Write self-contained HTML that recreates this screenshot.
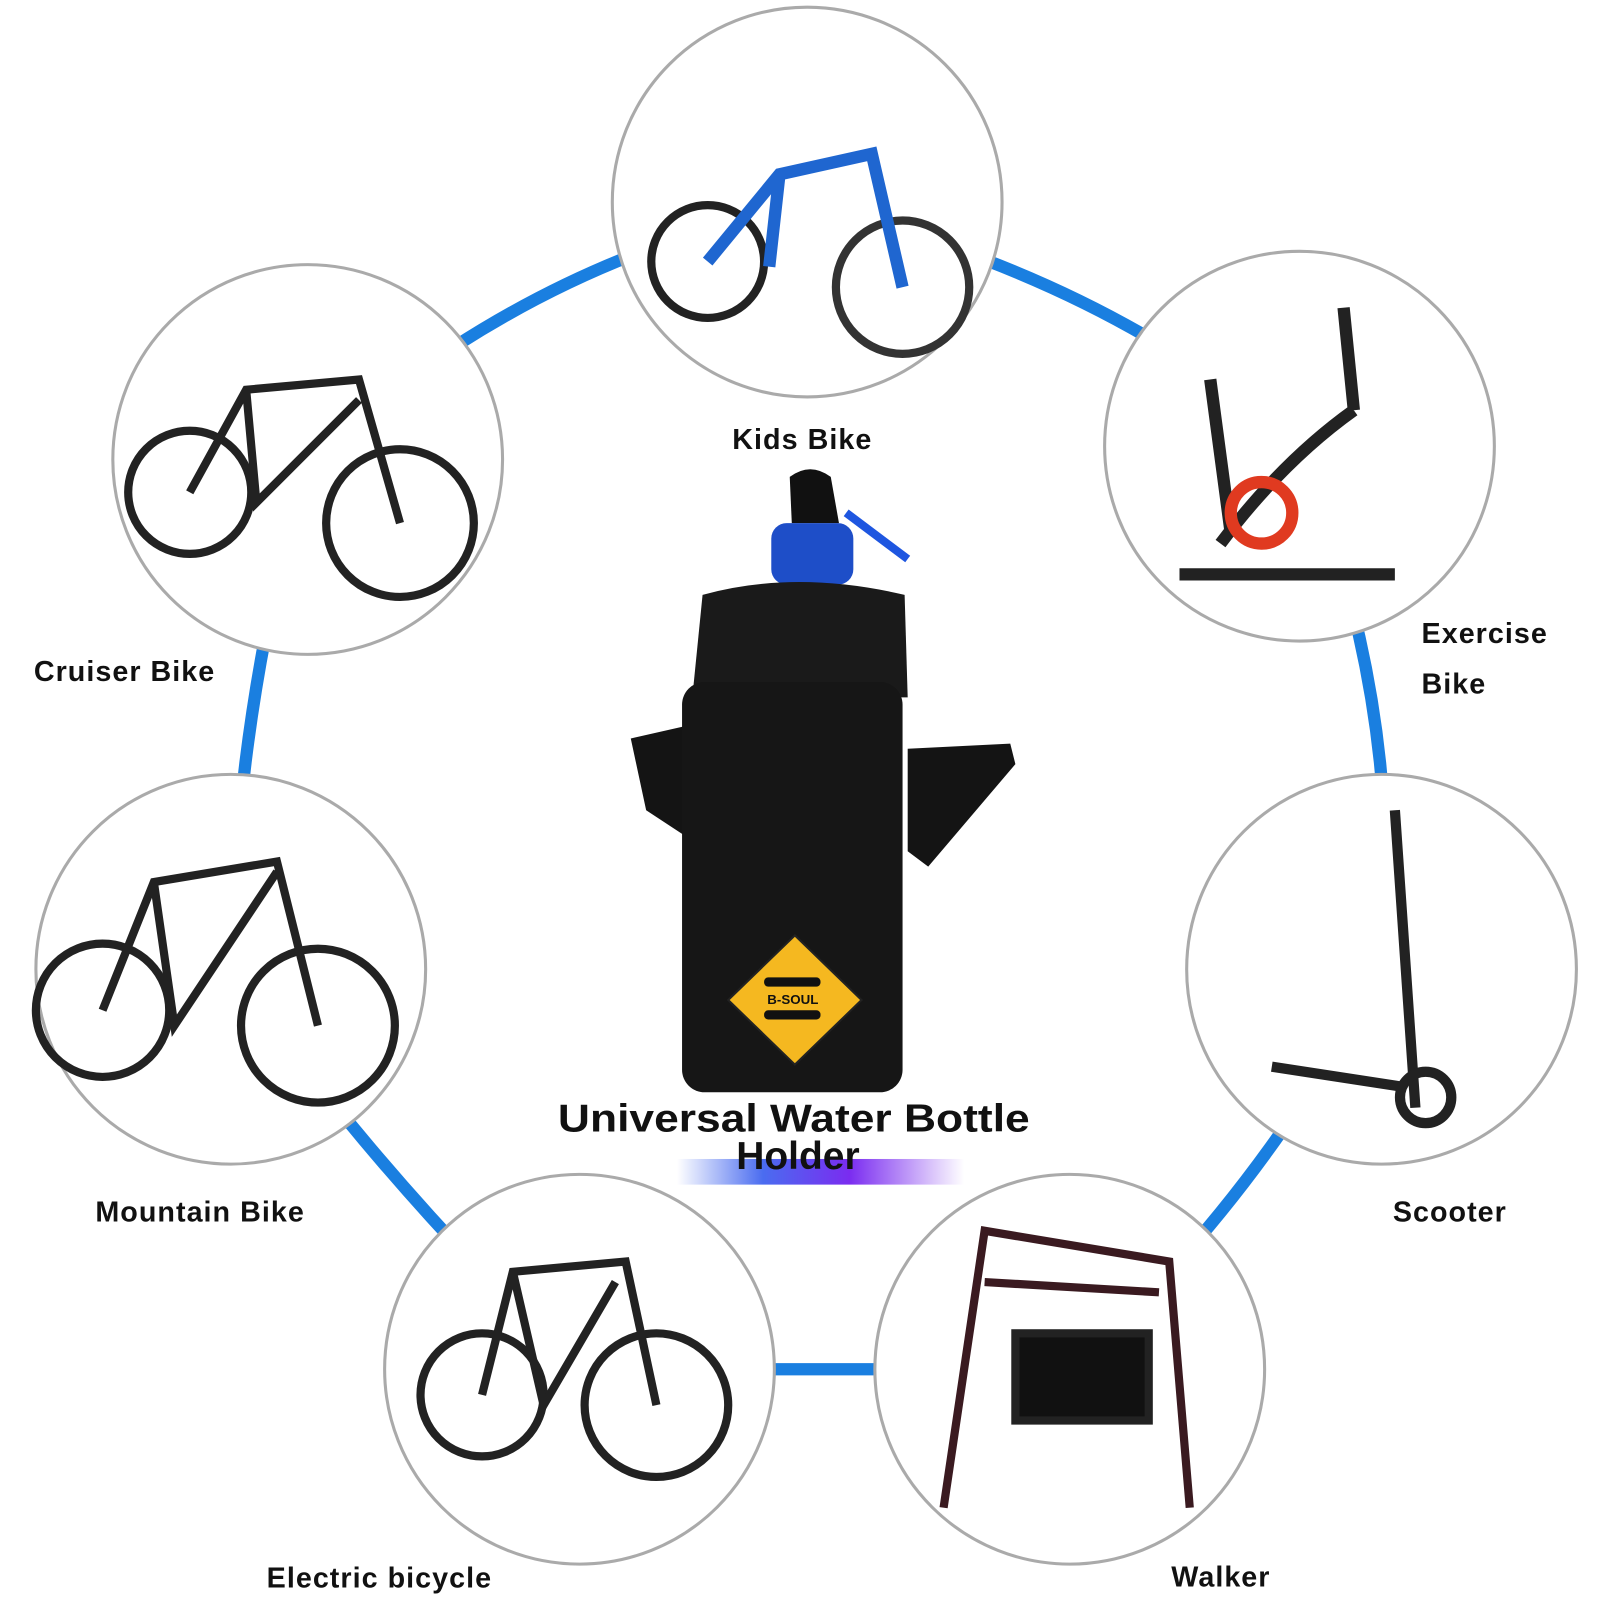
<!DOCTYPE html>
<html><head><style>
html,body{margin:0;padding:0;background:#fff;}
svg{display:block}
text{font-family:"Liberation Sans",sans-serif;font-weight:bold;fill:#111}
</style></head><body>
<svg width="1600" height="1600" viewBox="0 0 1560 1560" xmlns="http://www.w3.org/2000/svg">
<defs>
<linearGradient id="g" x1="0" x2="1"><stop offset="0" stop-color="#fff"/><stop offset="0.3" stop-color="#4a6cf0"/><stop offset="0.6" stop-color="#7a2cf0"/><stop offset="1" stop-color="#fff"/></linearGradient>
</defs>
<path d="M300,448 Q520,250 787,200 Q1080,270 1267,435 Q1370,690 1347,945 Q1220,1180 1043,1335 L565,1335 Q380,1160 225,945 Q230,690 300,448 Z" fill="none" stroke="#1a7fe0" stroke-width="12"/>
<g fill="#fff" stroke="#aaa" stroke-width="3">
<circle cx="787" cy="197" r="190"/>
<circle cx="300" cy="448" r="190"/>
<circle cx="1267" cy="435" r="190"/>
<circle cx="225" cy="945" r="190"/>
<circle cx="1347" cy="945" r="190"/>
<circle cx="565" cy="1335" r="190"/>
<circle cx="1043" cy="1335" r="190"/>
</g>
<g fill="none" stroke="#222" stroke-width="8">
<circle cx="690" cy="255" r="55"/><circle cx="880" cy="280" r="65" stroke="#333"/>
<path d="M690,255 L760,170 L850,150 L880,280 M760,170 L750,260" stroke="#1f66d0" stroke-width="12"/>
<circle cx="185" cy="480" r="60"/><circle cx="390" cy="510" r="72"/>
<path d="M185,480 L240,380 L350,370 L390,510 M240,380 L250,490 L350,390"/>
<circle cx="100" cy="985" r="65"/><circle cx="310" cy="1000" r="75"/>
<path d="M100,985 L150,860 L270,840 L310,1000 M150,860 L170,1000 L270,850"/>
<circle cx="470" cy="1360" r="60"/><circle cx="640" cy="1370" r="70"/>
<path d="M470,1360 L500,1240 L610,1230 L640,1370 M500,1240 L530,1370 L600,1250"/>
<path d="M1360,790 L1380,1080 M1240,1040 L1370,1060" stroke-width="10"/>
<circle cx="1390" cy="1070" r="25" stroke-width="10"/>
<path d="M1190,530 Q1250,450 1320,400 M1150,560 L1360,560 M1180,370 L1200,520 M1310,300 L1320,400" stroke-width="12"/>
<circle cx="1230" cy="500" r="30" stroke="#e03a20" stroke-width="12"/>
<path d="M920,1470 L960,1200 L1140,1230 L1160,1470 M960,1250 L1130,1260" stroke="#3a1a20"/>
<rect x="990" y="1300" width="130" height="85" fill="#111"/>
</g>
<!-- bag -->
<path d="M770,465 Q790,450 810,465 L818,510 L772,510 Z" fill="#111"/>
<rect x="752" y="510" width="80" height="60" rx="15" fill="#1e4ec8"/>
<path d="M825,500 L885,545" stroke="#1e56e0" stroke-width="8"/>
<path d="M615,720 L668,708 L668,815 L630,790 Z M885,730 L985,725 L990,745 L905,845 L885,830 Z" fill="#141414"/>
<path d="M685,580 Q775,555 882,580 L885,680 L675,680 Z" fill="#1a1a1a"/>
<rect x="665" y="665" width="215" height="400" rx="22" fill="#161616"/>
<path d="M775,912 L840,975 L775,1038 L710,975 Z" fill="#f5b820" stroke="#222" stroke-width="2"/>
<rect x="745" y="953" width="55" height="9" rx="4" fill="#111"/>
<rect x="745" y="985" width="55" height="9" rx="4" fill="#111"/>
<text x="773" y="979" font-size="13" text-anchor="middle">B-SOUL</text>
<rect x="660" y="1130" width="280" height="25" fill="url(#g)"/>
<text x="774" y="1103" font-size="38" text-anchor="middle" textLength="460" lengthAdjust="spacingAndGlyphs">Universal Water Bottle</text>
<text x="778" y="1140" font-size="38" text-anchor="middle">Holder</text>
<g font-size="28" letter-spacing="1">
<text x="714" y="438">Kids Bike</text>
<text x="33" y="664">Cruiser Bike</text>
<text x="1386" y="627">Exercise</text>
<text x="1386" y="676">Bike</text>
<text x="93" y="1191">Mountain Bike</text>
<text x="1358" y="1191">Scooter</text>
<text x="260" y="1548">Electric bicycle</text>
<text x="1142" y="1547">Walker</text>
</g>
</svg>
</body></html>
